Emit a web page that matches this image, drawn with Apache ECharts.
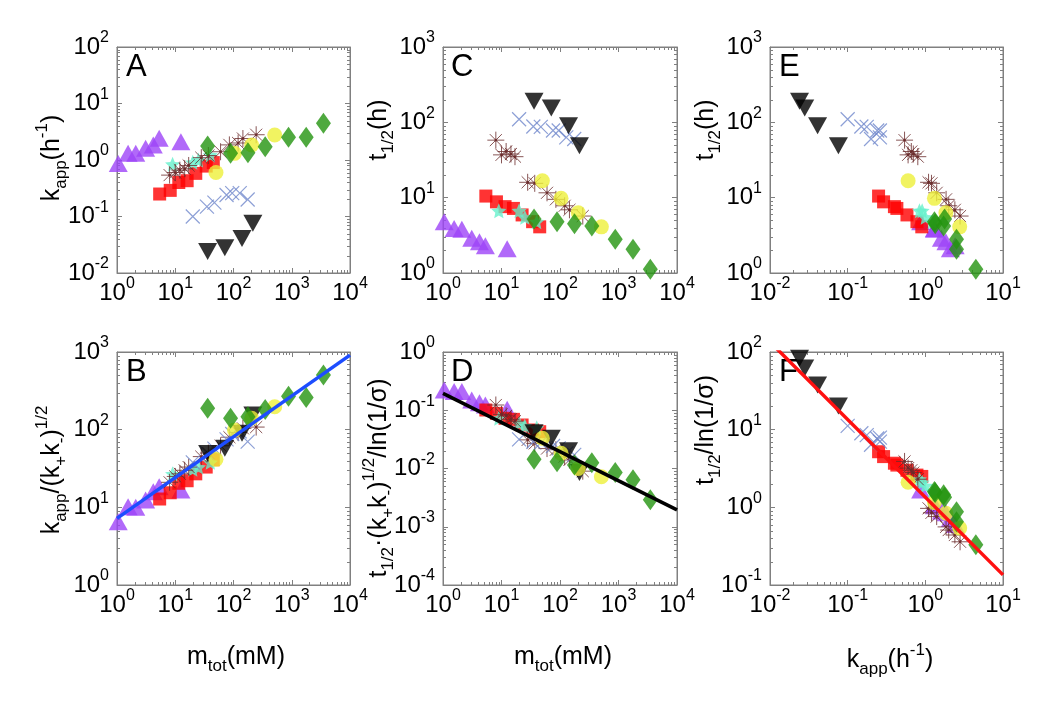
<!DOCTYPE html>
<html>
<head>
<meta charset="utf-8">
<title>kapp / t1/2 log-log panels</title>
<script src="https://cdn.jsdelivr.net/npm/echarts@6/dist/echarts.min.js"></script>
<style>
  html, body { margin: 0; padding: 0; background: #fff; }
  #main { width: 1050px; height: 703px; }
</style>
</head>
<body>
<div id="main"></div>
<script>
// values, one set of arrays per marker group
// m = m_tot (mM), k = k_app (1/h), t = t_1/2 (h), b/d/f = y values in panels B, D, F
var mPurple = [1.05, 1.55, 2.1, 3.1, 4.2, 5.3, 12.5];
var kPurple = [0.87, 1.31, 1.31, 1.61, 1.84, 2.42, 2.1];
var tPurple = [4.8, 3.9, 3.8, 2.9, 2.6, 2.3, 2.1];
var bPurple = [6.5, 10.2, 10, 12.4, 15.9, 18.4, 16.7];
var dPurple = [0.223, 0.209, 0.209, 0.15, 0.135, 0.123, 0.104];
var fPurple = [1.67, 1.1, 1.05, 0.9, 0.85, 0.6, 0.72];

var mRed = [5.4, 8.2, 11.5, 16, 22.5, 34, 45];
var kRed = [0.25, 0.29, 0.40, 0.43, 0.58, 0.78, 0.9];
var tRed = [10.5, 8.8, 7.6, 7.2, 5.9, 4.8, 4.1];
var bRed = [12.8, 15.4, 20.4, 22, 27, 33, 41];
var dRed = [0.101, 0.0885, 0.0727, 0.0698, 0.0558, 0.0458, 0.0428];
var fRed = [5.2, 4.5, 3.7, 3.5, 3.0, 2.6, 2.5];

var mCyan = [9, 20, 25, 40];
var kCyan = [0.84, 0.91, 1.0, 1.23];
var tCyan = [6.7, 6.7, 5.5, 4.8];
var bCyan = [27, 31, 33, 38];
var dCyan = [0.0727, 0.0597, 0.0537, 0.05];
var fCyan = [2.3, 2.1, 1.9, 1.6];

var mBrown = [8, 10, 12, 14.5, 17, 28, 37, 60, 85, 120, 145, 245];
var kBrown = [0.54, 0.6, 0.66, 0.7, 0.8, 1.1, 1.2, 1.4, 1.85, 2.0, 2.4, 2.8];
var tBrown = [58, 37, 41, 38, 35, 16, 15.5, 11.6, 9.5, 7.8, 6.9, 5.7];
var bBrown = [21, 25, 27, 30, 33, 45, 50, 62, 80, 92, 104, 108];
var dBrown = [0.123, 0.085, 0.08, 0.07, 0.065, 0.031, 0.027, 0.022, 0.021, 0.016, 0.014, 0.009];
var fBrown = [3.9, 3.2, 3.0, 2.8, 2.3, 0.97, 0.85, 0.76, 0.56, 0.51, 0.44, 0.36];

var mBlue = [20, 35, 47, 76, 95, 128, 175];
var kBlue = [0.1, 0.15, 0.176, 0.24, 0.26, 0.26, 0.2];
var tBlue = [110, 88, 87, 78, 78, 63, 60];
var bBlue = [38, 50, 57, 75, 88, 95, 70];
var dBlue = [0.0316, 0.0288, 0.0277, 0.0243, 0.0222, 0.0182, 0.0171];
var fBlue = [11.2, 9, 8.5, 7.7, 7.9, 7.0, 6.4];

var mBlack = [36, 71, 140, 215];
var kBlack = [0.024, 0.028, 0.041, 0.076];
var tBlack = [190, 155, 90, 49];
var bBlack = [49.5, 57.5, 89.6, 154];
var dBlack = [0.0412, 0.033, 0.0202, 0.0085];
var fBlack = [83, 62, 37.6, 20.2];

var mYellow = [50, 104, 205, 510];
var kYellow = [0.6, 1.31, 1.84, 2.77];
var tYellow = [16.8, 9.8, 6.3, 4.1];
var bYellow = [41.5, 99, 140, 197];
var dYellow = [0.033, 0.0182, 0.01, 0.0072];
var fYellow = [2.1, 1.15, 0.84, 0.54];

var mGreen = [36, 89, 177, 350, 880, 1770, 3500];
var kGreen = [1.77, 1.31, 1.34, 1.72, 2.52, 2.52, 4.47];
var tGreen = [5.2, 4.8, 4.5, 4.2, 2.8, 2.07, 1.12];
var bGreen = [188, 140, 147, 182, 270, 260, 505];
var dGreen = [0.0144, 0.0131, 0.0115, 0.0126, 0.0085, 0.0064, 0.0029];
var fGreen = [1.35, 1.6, 1.55, 1.45, 0.88, 0.65, 0.33];

// fitted lines (end points) in B, D, F
var fitBx = [1, 10000];
var fitBy = [7.2, 910];
var fitDx = [1, 10000];
var fitDy = [0.195, 0.00195];
var fitFx = [0.01, 10];
var fitFy = [135, 0.135];

var FONT = "'Liberation Sans', Arial, sans-serif";
var GRAY = '#808080';

var myChart = echarts.init(document.getElementById('main'), null, {renderer: 'canvas'});

var groups = [
    {m: mPurple, k: kPurple, t: tPurple, b: bPurple, d: dPurple, f: fPurple,
     symbol: 'triangle', size: [19, 17], style: {color: '#9d44f7'}},
    {m: mRed, k: kRed, t: tRed, b: bRed, d: dRed, f: fRed,
     symbol: 'rect', size: 13, style: {color: '#ff0000'}},
    {m: mCyan, k: kCyan, t: tCyan, b: bCyan, d: dCyan, f: fCyan,
     symbol: 'path://M10,0L12.9,6.9L20,7.6L14.7,12.4L16.2,19.5L10,15.8L3.8,19.5L5.3,12.4L0,7.6L7.1,6.9Z',
     size: 15, style: {color: '#66f0cc'}},
    {m: mBrown, k: kBrown, t: tBrown, b: bBrown, d: dBrown, f: fBrown,
     symbol: 'path://M10,0L10,20M0,10L20,10M2.9,2.9L17.1,17.1M17.1,2.9L2.9,17.1M9,9L11,9L11,11L9,11Z',
     size: 17, style: {color: 'transparent', borderColor: '#6a2c2c', borderWidth: 1}},
    {m: mBlue, k: kBlue, t: tBlue, b: bBlue, d: dBlue, f: fBlue,
     symbol: 'path://M0,0L20,20M20,0L0,20',
     size: 14, style: {color: 'transparent', borderColor: '#7088cc', borderWidth: 1.2}},
    {m: mBlack, k: kBlack, t: tBlack, b: bBlack, d: dBlack, f: fBlack,
     symbol: 'path://M0,0L20,0L10,17.3Z', size: [19, 17], style: {color: '#000000'}},
    {m: mYellow, k: kYellow, t: tYellow, b: bYellow, d: dYellow, f: fYellow,
     symbol: 'circle', size: 15, style: {color: '#eef03a'}},
    {m: mGreen, k: kGreen, t: tGreen, b: bGreen, d: dGreen, f: fGreen,
     symbol: 'diamond', size: [15, 21], style: {color: '#23940f'}}
];

// panel order: A, C, E (top row) then B, D, F (bottom row)
var panels = [
    {x: 'm', y: 'k', xr: [1, 1e4], yr: [1e-2, 1e2], box: {left: 117, top: 47, width: 233, height: 226}},
    {x: 'm', y: 't', xr: [1, 1e4], yr: [1, 1e3], box: {left: 443, top: 47, width: 234, height: 226}},
    {x: 'k', y: 't', xr: [1e-2, 10], yr: [1, 1e3], box: {left: 770, top: 47, width: 233, height: 226}},
    {x: 'm', y: 'b', xr: [1, 1e4], yr: [1, 1e3], box: {left: 117, top: 352, width: 233, height: 233},
     fit: [fitBx, fitBy], fitColor: '#1d4dff'},
    {x: 'm', y: 'd', xr: [1, 1e4], yr: [1e-4, 1], box: {left: 443, top: 352, width: 234, height: 233},
     fit: [fitDx, fitDy], fitColor: '#000000'},
    {x: 'k', y: 'f', xr: [1e-2, 10], yr: [1e-1, 1e2], box: {left: 770, top: 352, width: 233, height: 233},
     fit: [fitFx, fitFy], fitColor: '#ff1010'}
];

var tickRich = {
    b: {fontSize: 24, fontFamily: FONT, color: '#000', lineHeight: 34, verticalAlign: 'middle'},
    s: {fontSize: 16, fontFamily: FONT, color: '#000', lineHeight: 16, verticalAlign: 'top'}
};
function tickFmt(v) {
    return '{b|10}{s|' + Math.round(Math.log10(v)) + '}';
}
function decades(r) {
    return Math.round(Math.log10(r[1]) - Math.log10(r[0]));
}
// 2..9 x 10^n inside a log range, for the small box ticks
function minorValues(r) {
    var out = [];
    for (var e = Math.round(Math.log10(r[0])); e < Math.round(Math.log10(r[1])); e++) {
        for (var j = 2; j <= 9; j++) out.push(j * Math.pow(10, e));
    }
    return out;
}
function logAxis(i, r, pos, labels) {
    return {
        type: 'log', gridIndex: i, position: pos, min: r[0], max: r[1],
        splitNumber: decades(r),
        axisLine: {show: true, onZero: false, lineStyle: {color: GRAY, width: 1}},
        axisTick: {show: true, inside: true, length: 5, lineStyle: {color: GRAY}},
        splitLine: {show: false},
        axisLabel: labels ? {show: true, margin: pos === 'bottom' ? 3 : 8, formatter: tickFmt, rich: tickRich}
                          : {show: false}
    };
}
function zip(xs, ys) {
    return xs.map(function (x, j) { return [x, ys[j]]; });
}
function minorTicks(i, p) {
    var data = minorValues(p.xr).map(function (v) { return [v, p.yr[0], 0]; })
        .concat(minorValues(p.yr).map(function (v) { return [p.xr[0], v, 1]; }));
    return {
        type: 'custom', xAxisIndex: i, yAxisIndex: i, silent: true, clip: false, z: 1,
        data: data,
        renderItem: function (params, api) {
            var st = {stroke: GRAY, lineWidth: 1};
            if (api.value(2) === 0) {
                var a = api.coord([api.value(0), p.yr[0]]);
                var b = api.coord([api.value(0), p.yr[1]]);
                var x = Math.round(a[0]) + 0.5;
                return {type: 'group', children: [
                    {type: 'line', shape: {x1: x, y1: a[1], x2: x, y2: a[1] - 3}, style: st},
                    {type: 'line', shape: {x1: x, y1: b[1], x2: x, y2: b[1] + 3}, style: st}
                ]};
            }
            var c = api.coord([p.xr[0], api.value(1)]);
            var d = api.coord([p.xr[1], api.value(1)]);
            var y = Math.round(c[1]) + 0.5;
            return {type: 'group', children: [
                {type: 'line', shape: {x1: c[0], y1: y, x2: c[0] + 3, y2: y}, style: st},
                {type: 'line', shape: {x1: d[0], y1: y, x2: d[0] - 3, y2: y}, style: st}
            ]};
        }
    };
}

var grid = [], xAxis = [], yAxis = [], series = [];
panels.forEach(function (p, i) {
    grid.push(Object.assign({show: true, borderColor: GRAY, borderWidth: 1, backgroundColor: '#fff'}, p.box));
    xAxis[i] = logAxis(i, p.xr, 'bottom', true);
    xAxis[i + 6] = logAxis(i, p.xr, 'top', false);
    yAxis[i] = logAxis(i, p.yr, 'left', true);
    yAxis[i + 6] = logAxis(i, p.yr, 'right', false);
    series.push(minorTicks(i, p));
    groups.forEach(function (g) {
        series.push({
            type: 'scatter', xAxisIndex: i, yAxisIndex: i,
            symbol: g.symbol, symbolSize: g.size, itemStyle: g.style,
            data: zip(g[p.x], g[p.y]), silent: true, clip: false
        });
    });
    if (p.fit) {
        series.push({
            type: 'line', xAxisIndex: i, yAxisIndex: i, showSymbol: false, silent: true,
            lineStyle: {color: p.fitColor, width: 3.5}, data: zip(p.fit[0], p.fit[1])
        });
    }
});

var nameRich = {
    n: {fontSize: 25, fontFamily: FONT, fill: '#000', lineHeight: 36, verticalAlign: 'middle'},
    sb: {fontSize: 17, fontFamily: FONT, fill: '#000', lineHeight: 17, verticalAlign: 'bottom'},
    sp: {fontSize: 17, fontFamily: FONT, fill: '#000', lineHeight: 17, verticalAlign: 'top'}
};
function label(txt, x, y, rot) {
    return {
        type: 'text', x: x, y: y, rotation: rot || 0, silent: true,
        style: {text: txt, rich: nameRich, align: 'center', verticalAlign: 'middle'}
    };
}
function letter(txt, x, y) {
    return {type: 'text', left: x, top: y, silent: true,
            style: {text: txt, fontSize: 31, fontFamily: FONT, fill: '#000'}};
}
var V = Math.PI / 2;

myChart.setOption({
    backgroundColor: '#ffffff',
    animation: false,
    grid: grid,
    xAxis: xAxis,
    yAxis: yAxis,
    series: series,
    graphic: [
        letter('A', 126, 52), letter('C', 451, 52), letter('E', 779, 52),
        letter('B', 126, 357), letter('D', 451, 357), letter('F', 779, 357),
        label('{n|k}{sb|app}{n|(h}{sp|-1}{n|)}', 52, 158, V),
        label('{n|t}{sb|1/2}{n|(h)}', 379, 130, V),
        label('{n|t}{sb|1/2}{n|(h)}', 706, 130, V),
        label('{n|k}{sb|app}{n|/(k}{sb|+}{n|k}{sb|-}{n|)}{sp|1/2}', 52, 470, V),
        label('{n|t}{sb|1/2}{n|·(k}{sb|+}{n|k}{sb|-}{n|)}{sp|1/2}{n|/ln(1/σ)}', 379, 478, V),
        label('{n|t}{sb|1/2}{n|/ln(1/σ)}', 706, 430, V),
        label('{n|m}{sb|tot}{n|(mM)}', 236, 657),
        label('{n|m}{sb|tot}{n|(mM)}', 563, 657),
        label('{n|k}{sb|app}{n|(h}{sp|-1}{n|)}', 890, 660)
    ]
});
</script>
</body>
</html>
